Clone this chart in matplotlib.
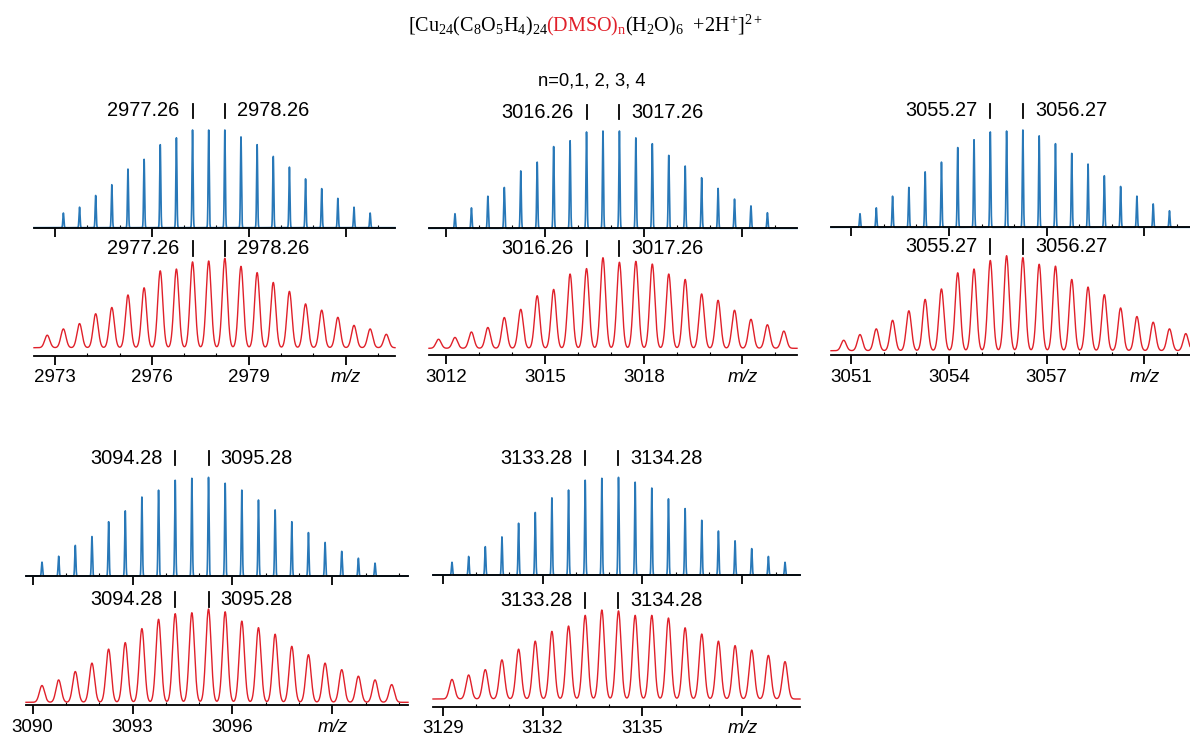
import numpy as np
import matplotlib.pyplot as plt

plt.rcParams['font.family'] = ['Liberation Sans', 'DejaVu Sans']
plt.rcParams['mathtext.fontset'] = 'custom'
plt.rcParams['mathtext.rm'] = 'Liberation Serif'
plt.rcParams['mathtext.it'] = 'Liberation Serif:italic'

# --- data ---
marks = [2977.26, 3016.26, 3055.27, 3094.28, 3133.28]
blue_start = [2973.26, 3012.26, 3051.27, 3090.28, 3129.28]
red_start = [2972.76, 3011.76, 3050.77, 3090.28, 3129.28]
tick_start = [2973, 3012, 3051, 3090, 3129]
spacing = 0.5  # 2+ ion, isotope spacing

blue1 = [.15, .21, .33, .44, .60, .70, .85, .92, 1, 1, 1, .93, .85, .73, .62, .50, .40, .30, .21, .15]
red1 = [.14, .21, .27, .38, .45, .59, .67, .86, .88, .96, .97, 1.0, .91, .84, .73, .63, .49, .42, .34, .25, .21, .15]
blue2 = [.15, .21, .33, .42, .59, .68, .84, .90, .99, 1, 1, .93, .87, .75, .64, .52, .41, .30, .23, .16]
red2 = [.10, .12, .18, .23, .34, .43, .58, .65, .82, .88, 1, .95, .96, .93, .82, .76, .60, .53, .42, .32, .26, .19]
blue3 = [.14, .20, .32, .41, .57, .67, .82, .90, .98, .99, 1, .94, .86, .76, .65, .53, .42, .32, .24, .17]
red3 = [.11, .17, .23, .32, .42, .54, .65, .82, .86, .95, 1, .98, .91, .89, .75, .67, .59, .45, .36, .30, .23, .18]
blue4 = [.14, .20, .31, .40, .55, .66, .80, .87, .97, .99, 1, .94, .87, .77, .67, .55, .44, .34, .25, .18, .13]
red4 = [.18, .24, .33, .42, .57, .64, .79, .89, .95, .96, 1, .97, .87, .80, .73, .60, .51, .42, .35, .28, .24, .19]
blue5 = [.13, .19, .29, .39, .53, .64, .79, .87, .97, .99, 1, .95, .89, .78, .68, .56, .45, .35, .27, .19, .13]
red5 = [.22, .27, .33, .44, .56, .65, .76, .82, .94, 1, .99, .94, .94, .91, .80, .73, .65, .60, .55, .49, .42]

blues = [blue1, blue2, blue3, blue4, blue5]
reds = [red1, red2, red3, red4, red5]

# --- layout (pixels) ---
W, H = 1190, 744
xpix = [(34, 395), (429, 797), (831, 1190), (26, 408), (433, 800)]
xlims = [(2972.35, 2983.53), (3011.47, 3022.66), (3050.38, 3061.40),
         (3089.80, 3101.27), (3128.71, 3139.73)]
blue_y = [(227.7, 130), (228.3, 131), (227.3, 130), (576, 477.3), (575, 477.3)]
red_y = [(355.7, 347.7, 258.3), (355, 348.3, 257.7), (355, 350.7, 255.7),
         (705, 702.3, 609), (706.7, 699, 610)]

BLUE = '#2878b8'
RED = '#e0202a'


def add_ax(fig, x0, x1, ytop, ybot):
    return fig.add_axes([x0 / W, 1 - ybot / H, (x1 - x0) / W, (ybot - ytop) / H])


def profile(x, start, heights, sigma):
    y = np.zeros_like(x)
    for i, h in enumerate(heights):
        c = start + spacing * i
        y += h * np.exp(-(x - c) ** 2 / (2 * sigma ** 2))
    return y


def style(ax, t0, xlim, labels):
    for s in ['top', 'right', 'left']:
        ax.spines[s].set_visible(False)
    ax.spines['bottom'].set_linewidth(1.3)
    ax.set_yticks([])
    ax.set_xlim(xlim)
    ax.set_xticks([t0, t0 + 3, t0 + 6, t0 + 9])
    ax.set_xticks(np.arange(np.ceil(xlim[0]), xlim[1]), minor=True)
    ax.tick_params(axis='x', which='major', direction='out', length=6.3, width=1.3, pad=3.5)
    ax.tick_params(axis='x', which='minor', direction='in', length=2, width=0.8)
    ax.patch.set_alpha(0)
    if labels:
        ax.set_xticklabels([str(t0), str(t0 + 3), str(t0 + 6), 'm/z'], fontsize=13.5)
        ax.get_xticklabels()[-1].set_fontstyle('italic')
    else:
        ax.set_xticklabels([])


def mark(ax, m, y1, y2):
    for xm in (m, m + 1):
        ax.plot([xm, xm], [y1, y2], color='black', lw=1.3, clip_on=False)
    yc = (y1 + y2) / 2
    ax.annotate(f'{m:.2f}', xy=(m, yc), xytext=(-13, 0), textcoords='offset pixels',
                ha='right', va='center', fontsize=14.4, annotation_clip=False)
    ax.annotate(f'{m + 1:.2f}', xy=(m + 1, yc), xytext=(12, 0), textcoords='offset pixels',
                ha='left', va='center', fontsize=14.4, annotation_clip=False)


fig = plt.figure(figsize=(W / 100, H / 100), dpi=100)

for i in range(5):
    x0, x1 = xpix[i]
    xlim = xlims[i]
    x = np.linspace(xlim[0], xlim[1], 9000)

    # theoretical (blue)
    spine, top = blue_y[i]
    ax = add_ax(fig, x0, x1, top, spine)
    ax.plot(x, profile(x, blue_start[i], blues[i], 0.016), color=BLUE, lw=1.2, clip_on=False)
    ax.set_ylim(0, 1)
    style(ax, tick_start[i], xlim, False)
    scale = spine - top
    mark(ax, marks[i], 1 + 12 / scale, 1 + 26 / scale)

    # experimental (red)
    spine, base, top = red_y[i]
    ax = add_ax(fig, x0, x1, top, spine)
    scale = base - top
    ax.plot(x, profile(x, red_start[i], reds[i], 0.078), color=RED, lw=1.0, clip_on=False)
    ax.set_ylim(-(spine - base) / scale, 1)
    style(ax, tick_start[i], xlim, True)
    mark(ax, marks[i], 1 + 2 / scale, 1 + 17 / scale)

# title built from pieces so the DMSO part can be red
pieces = [('[Cu$_{24}$(C$_{8}$O$_{5}$H$_{4}$)$_{24}$', 'black'),
          ('(DMSO)$_{\\mathrm{n}}$', RED),
          ('(H$_{2}$O)$_{6}$  +2H$^{+}$]$^{2+}$', 'black')]
renderer = fig.canvas.get_renderer()
xpos = 408
for txt, col in pieces:
    t = fig.text(xpos / W, 1 - 31.7 / H, txt, color=col, fontsize=14.5,
                 family='Liberation Serif', ha='left', va='baseline')
    bb = t.get_window_extent(renderer=renderer)
    xpos += bb.width - 2

fig.text(592 / W, 1 - 85 / H, 'n=0,1, 2, 3, 4', ha='center', va='baseline', fontsize=13.2)

fig.savefig('out.png', dpi=100)
